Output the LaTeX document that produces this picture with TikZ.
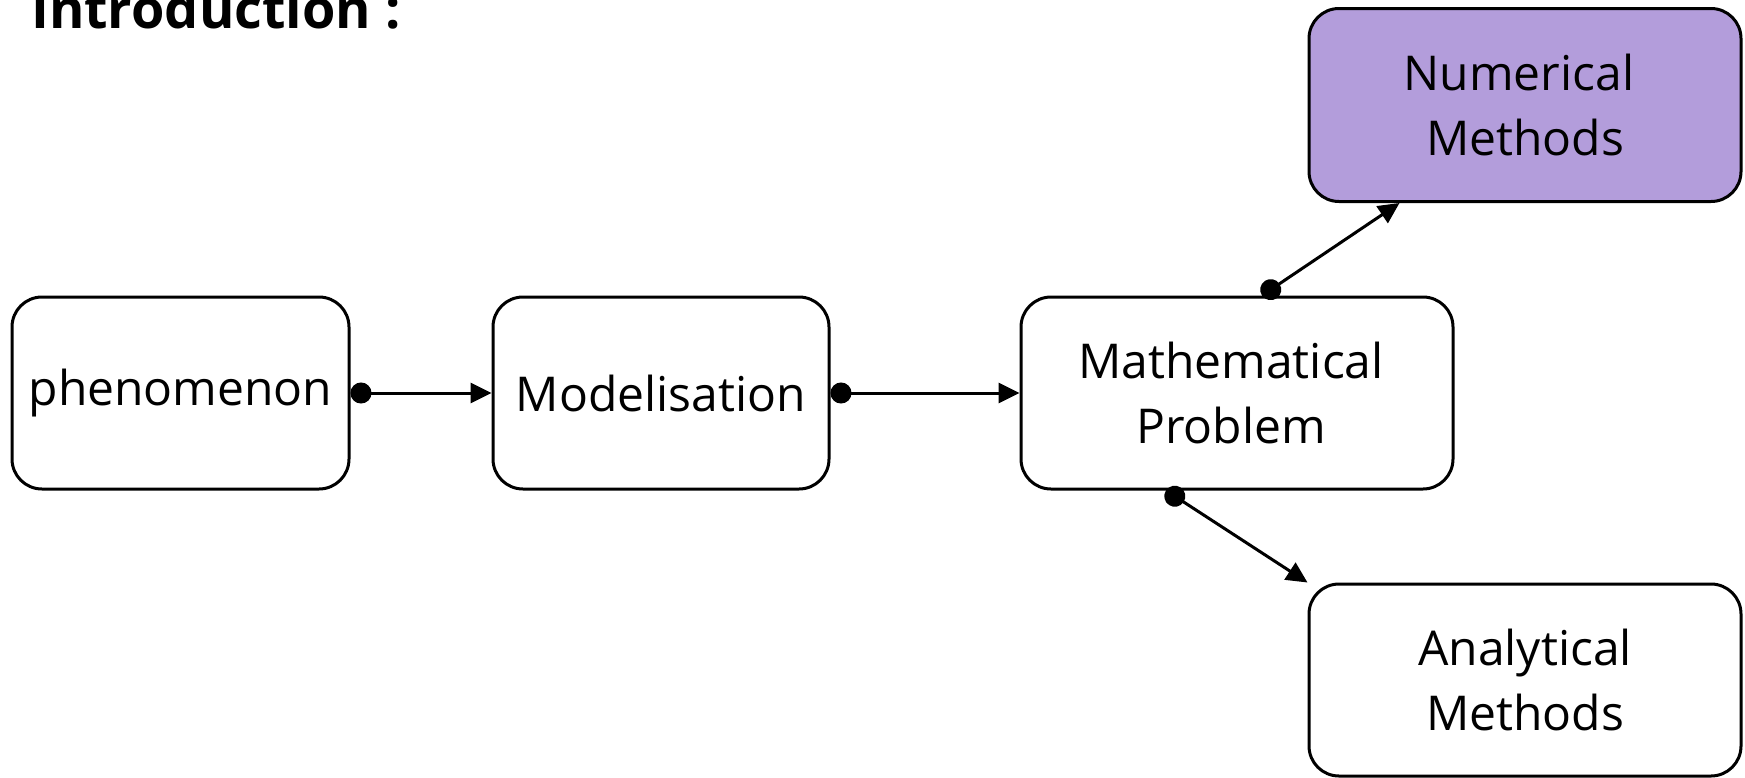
\documentclass[tikz,border=0pt]{standalone}
\usepackage{fontspec}
\setmainfont{Open Sans}
\usetikzlibrary{arrows.meta}
\definecolor{numfill}{RGB}{179,157,219}
\newcommand{\lsh}{\hspace*{-12pt}}
\begin{document}
\begin{tikzpicture}[x=1pt,y=-1pt,
  box/.style={draw, line width=3pt, rounded corners=30pt, rectangle,
    minimum height=192pt, align=center, inner sep=0pt,
    font=\fontsize{48}{65}\selectfont},
  conn/.style={line width=3pt, {Circle[length=21pt]}-{Triangle[length=21pt,width=20pt]}}]
\useasboundingbox (0,0) rectangle (1745,777);
\node[anchor=base west, inner sep=0pt, font=\fontsize{54}{60}\selectfont\bfseries] (title) at (31,28) {Introduction :};
\node[box, minimum width=337pt] (phen) at (180.5,393) {phenomenon};
\node[box, minimum width=336pt] (model) at (661,393) {Modelisation};
\node[box, minimum width=432pt] (math) at (1237,393) {\lsh Mathematical\\\lsh Problem};
\node[box, minimum width=432pt, minimum height=193pt, fill=numfill] (num) at (1525,105) {\lsh Numerical\\Methods};
\node[box, minimum width=432pt] (ana) at (1525,680) {Analytical\\Methods};
\draw[conn] (phen.east) -- (model.west);
\draw[conn] (model.east) -- (math.west);
\draw[conn] ([xshift=25pt]math.north) -- ([xshift=92pt]num.south west);
\draw[conn] ([xshift=-71pt]math.south) -- (ana.north west);
\end{tikzpicture}
\end{document}
